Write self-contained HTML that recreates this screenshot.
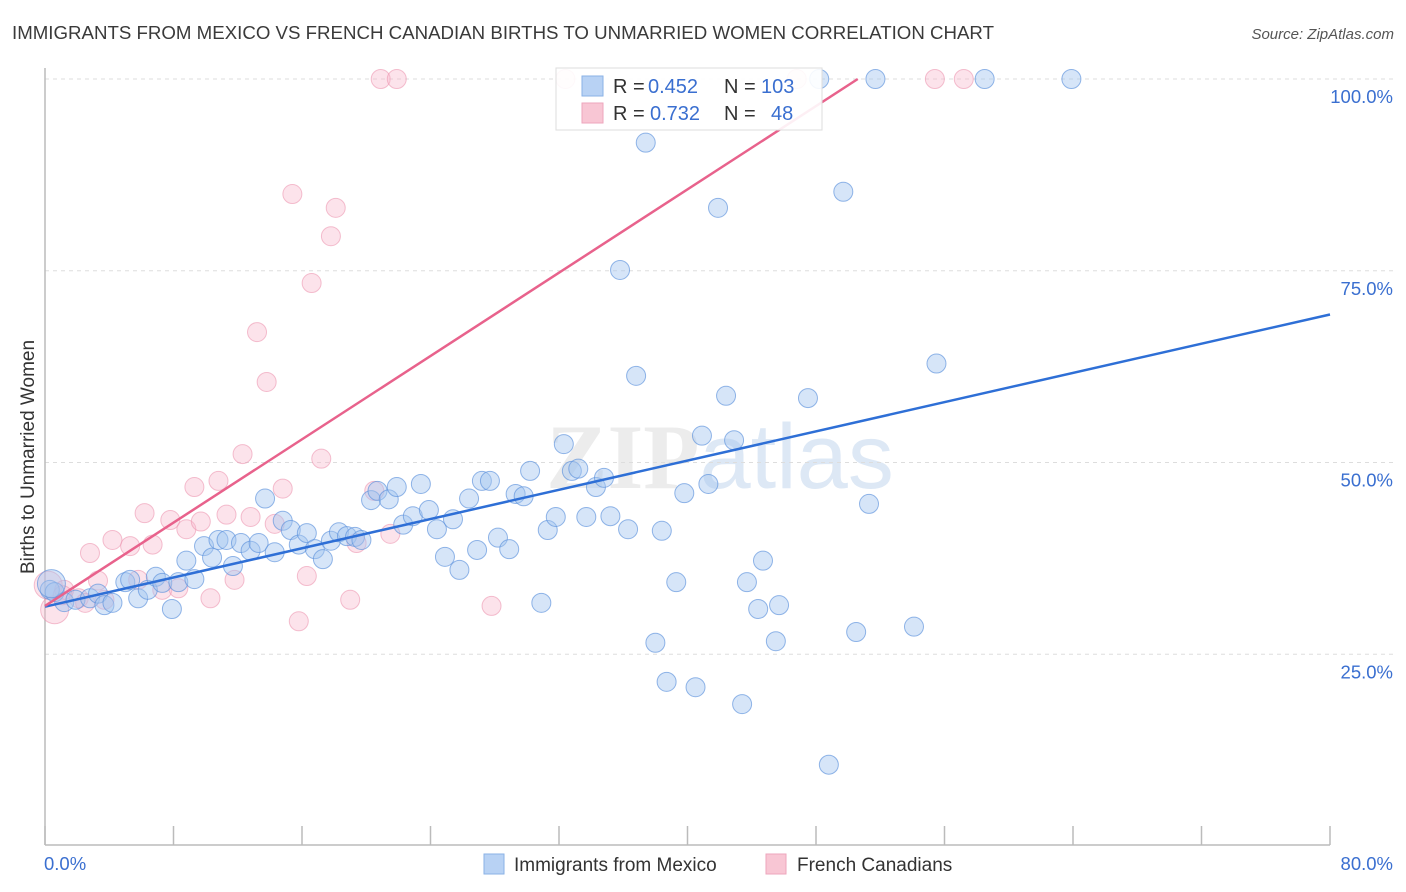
<!DOCTYPE html>
<html><head><meta charset="utf-8">
<style>
body{margin:0;background:#fff;font-family:"Liberation Sans",sans-serif;}
svg{display:block}
</style></head>
<body>
<svg id="chart" width="1406" height="892" xmlns="http://www.w3.org/2000/svg">
<text x="12" y="39" font-size="18" fill="#3a3a3a" textLength="982" lengthAdjust="spacingAndGlyphs">IMMIGRANTS FROM MEXICO VS FRENCH CANADIAN BIRTHS TO UNMARRIED WOMEN CORRELATION CHART</text>
<text x="1394" y="39" font-size="15" fill="#555" font-style="italic" text-anchor="end">Source: ZipAtlas.com</text>
<text x="720" y="488" font-size="92" fill="#ececec" text-anchor="middle" font-weight="bold" font-family="Liberation Serif">ZIP<tspan font-family="Liberation Sans" font-weight="normal" fill="#dde8f5">atlas</tspan></text>
<g id="grid"></g>
<g id="axes"></g>
<g id="pinkpts"></g>
<g id="bluepts"></g>
<g id="lines"></g>
<text transform="translate(34,457) rotate(-90)" font-size="19" fill="#333" text-anchor="middle">Births to Unmarried Women</text>
<g>
<rect x="556" y="68" width="266" height="62" fill="#fff" fill-opacity="0.9" stroke="#ddd"/>
<rect x="582" y="76" width="21" height="20" fill="#b8d2f4" stroke="#8ab2e6"/>
<rect x="582" y="103" width="21" height="20" fill="#f8c6d4" stroke="#eea6bc"/>
<text y="93" font-size="20" fill="#333"><tspan x="613">R =</tspan><tspan x="648" fill="#3a6fd0">0.452</tspan><tspan x="724">N =</tspan><tspan x="761" fill="#3a6fd0">103</tspan></text>
<text y="120" font-size="20" fill="#333"><tspan x="613">R =</tspan><tspan x="650" fill="#3a6fd0">0.732</tspan><tspan x="724">N =</tspan><tspan x="771" fill="#3a6fd0">48</tspan></text>
</g>
<g>
<rect x="484" y="854" width="20" height="20" fill="#b8d2f4" stroke="#8ab2e6"/>
<text x="514" y="871" font-size="19" fill="#333">Immigrants from Mexico</text>
<rect x="766" y="854" width="20" height="20" fill="#f8c6d4" stroke="#eea6bc"/>
<text x="797" y="871" font-size="19" fill="#333">French Canadians</text>
</g>
</svg>
<script>
const blueX=[0.3,0.6,1.2,1.9,2.8,3.3,3.7,4.2,5.0,5.3,5.8,6.4,6.9,7.3,7.9,8.3,8.8,9.3,9.9,10.4,10.8,11.3,11.7,12.2,12.8,13.3,13.7,14.3,14.8,15.3,15.8,16.3,16.8,17.3,17.8,18.3,18.8,19.3,19.7,20.3,20.7,21.4,21.9,22.3,22.9,23.4,23.9,24.4,24.9,25.4,25.8,26.4,26.9,27.2,27.7,28.2,28.9,29.3,29.8,30.2,30.9,31.3,31.8,32.3,32.8,33.2,33.7,34.3,34.8,35.2,35.8,36.3,36.8,37.4,38.0,38.4,38.7,39.3,39.8,40.5,40.9,41.3,41.9,42.4,42.9,43.4,43.7,44.4,44.7,45.5,45.7,47.5,48.2,48.8,49.7,50.5,51.3,51.7,54.1,55.5,58.5,63.9,0.4];
const blueY=[33.4,33.1,31.8,32.1,32.3,32.9,31.4,31.7,34.4,34.7,32.3,33.4,35.1,34.3,30.9,34.4,37.2,34.8,39.1,37.6,39.9,39.9,36.5,39.5,38.5,39.5,45.3,38.3,42.4,41.2,39.3,40.8,38.7,37.4,39.8,40.9,40.4,40.3,39.9,45.1,46.3,45.2,46.8,41.9,43.0,47.2,43.8,41.3,37.7,42.6,36.0,45.3,38.6,47.6,47.6,40.2,38.7,45.9,45.6,48.9,31.7,41.2,42.9,52.4,48.9,49.2,42.9,46.8,48.0,43.0,75.1,41.3,61.3,91.7,26.5,41.1,21.4,34.4,46.0,20.7,53.5,47.2,83.2,58.7,52.9,18.5,34.4,30.9,37.2,26.7,31.4,58.4,100,10.6,85.3,27.9,44.6,100,28.6,62.9,100,100,34.2];
const pinkX=[0.2,0.6,1.2,2.1,2.5,2.8,3.3,3.7,4.2,5.3,5.8,6.2,6.7,7.3,7.8,8.3,8.8,9.3,9.7,10.3,10.8,11.3,11.8,12.3,12.8,13.2,13.8,14.3,14.8,15.4,15.8,16.3,16.6,17.2,17.8,18.1,19.0,19.4,20.5,20.9,21.5,21.9,27.8,32.4,46.8,55.4,57.2,1.1];
const pinkY=[34.0,30.8,33.4,32.3,31.7,38.2,34.6,32.1,39.9,39.1,34.7,43.4,39.3,33.4,42.5,33.6,41.3,46.8,42.3,32.3,47.6,43.2,34.7,51.1,42.9,67.0,60.5,42.0,46.6,85.0,29.3,35.2,73.4,50.5,79.5,83.2,32.1,39.5,46.3,100,40.7,100,31.3,100,100,100,100,32.7];
const blueLineX=[0,80];
const blueLineY=[31.2,69.3];
const pinkLineX=[0,50.6];
const pinkLineY=[31.3,100];
const yTicks=[25,50,75,100];
const xTicks=[0,8,16,24,32,40,48,56,64,72,80];
const NS="http://www.w3.org/2000/svg";
const sx=v=>45+v/80*1285;
const sy=v=>846-v/100*767;
function mk(tag,attrs,parent){const e=document.createElementNS(NS,tag);for(const k in attrs)e.setAttribute(k,attrs[k]);parent.appendChild(e);return e;}
const grid=document.getElementById('grid'),axes=document.getElementById('axes');
yTicks.forEach(t=>{
 const l=mk('line',{x1:45,x2:1394,y1:sy(t),y2:sy(t),stroke:'#ddd','stroke-dasharray':'4,4'},grid);
 
 
 const tx=mk('text',{x:1393,y:sy(t)+24,'font-size':18.5,fill:'#3a6fd0','text-anchor':'end'},axes);
 tx.textContent=t.toFixed(1)+'%';
 
 
});
const ax=mk('line',{x1:45,x2:1330,y1:845,y2:845,stroke:'#bbb','stroke-width':1.5},axes);


const ay=mk('line',{x1:45,x2:45,y1:68,y2:845,stroke:'#bbb','stroke-width':1.5},axes);


xTicks.forEach(t=>{
 const l=mk('line',{x1:sx(t),x2:sx(t),y1:826,y2:845,stroke:'#bbb','stroke-width':1.5},axes);
 
 
});
[[0,'start'],[80,'end']].forEach(([t,a])=>{
 const tx=mk('text',{x:t==0?44:1393,y:870,'font-size':18.5,fill:'#3a6fd0','text-anchor':a},axes);
 tx.textContent=t.toFixed(1)+'%';
 
 
});
const pg=document.getElementById('pinkpts');
pinkX.forEach((x,i)=>{
 const r=(i<2)?14:9.5;
 const c=mk('circle',{cx:sx(x),cy:sy(pinkY[i]),r:r,fill:'rgba(248,186,204,0.4)',stroke:'rgba(236,150,176,0.6)','stroke-width':1},pg);
 
 
});
const bg=document.getElementById('bluepts');
blueX.forEach((x,i)=>{
 const r=(i==blueX.length-1)?14:9.5;
 const c=mk('circle',{cx:sx(x),cy:sy(blueY[i]),r:r,fill:'rgba(164,198,240,0.45)',stroke:'rgba(90,145,220,0.65)','stroke-width':1},bg);
 
 
});
const lg=document.getElementById('lines');
const bl=mk('line',{x1:sx(blueLineX[0]),y1:sy(blueLineY[0]),x2:sx(blueLineX[1]),y2:sy(blueLineY[1]),stroke:'#2e6fd6','stroke-width':2.5},lg);


const pl=mk('line',{x1:sx(pinkLineX[0]),y1:sy(pinkLineY[0]),x2:sx(pinkLineX[1]),y2:sy(pinkLineY[1]),stroke:'#e8628c','stroke-width':2.5},lg);


</script>
</body></html>
